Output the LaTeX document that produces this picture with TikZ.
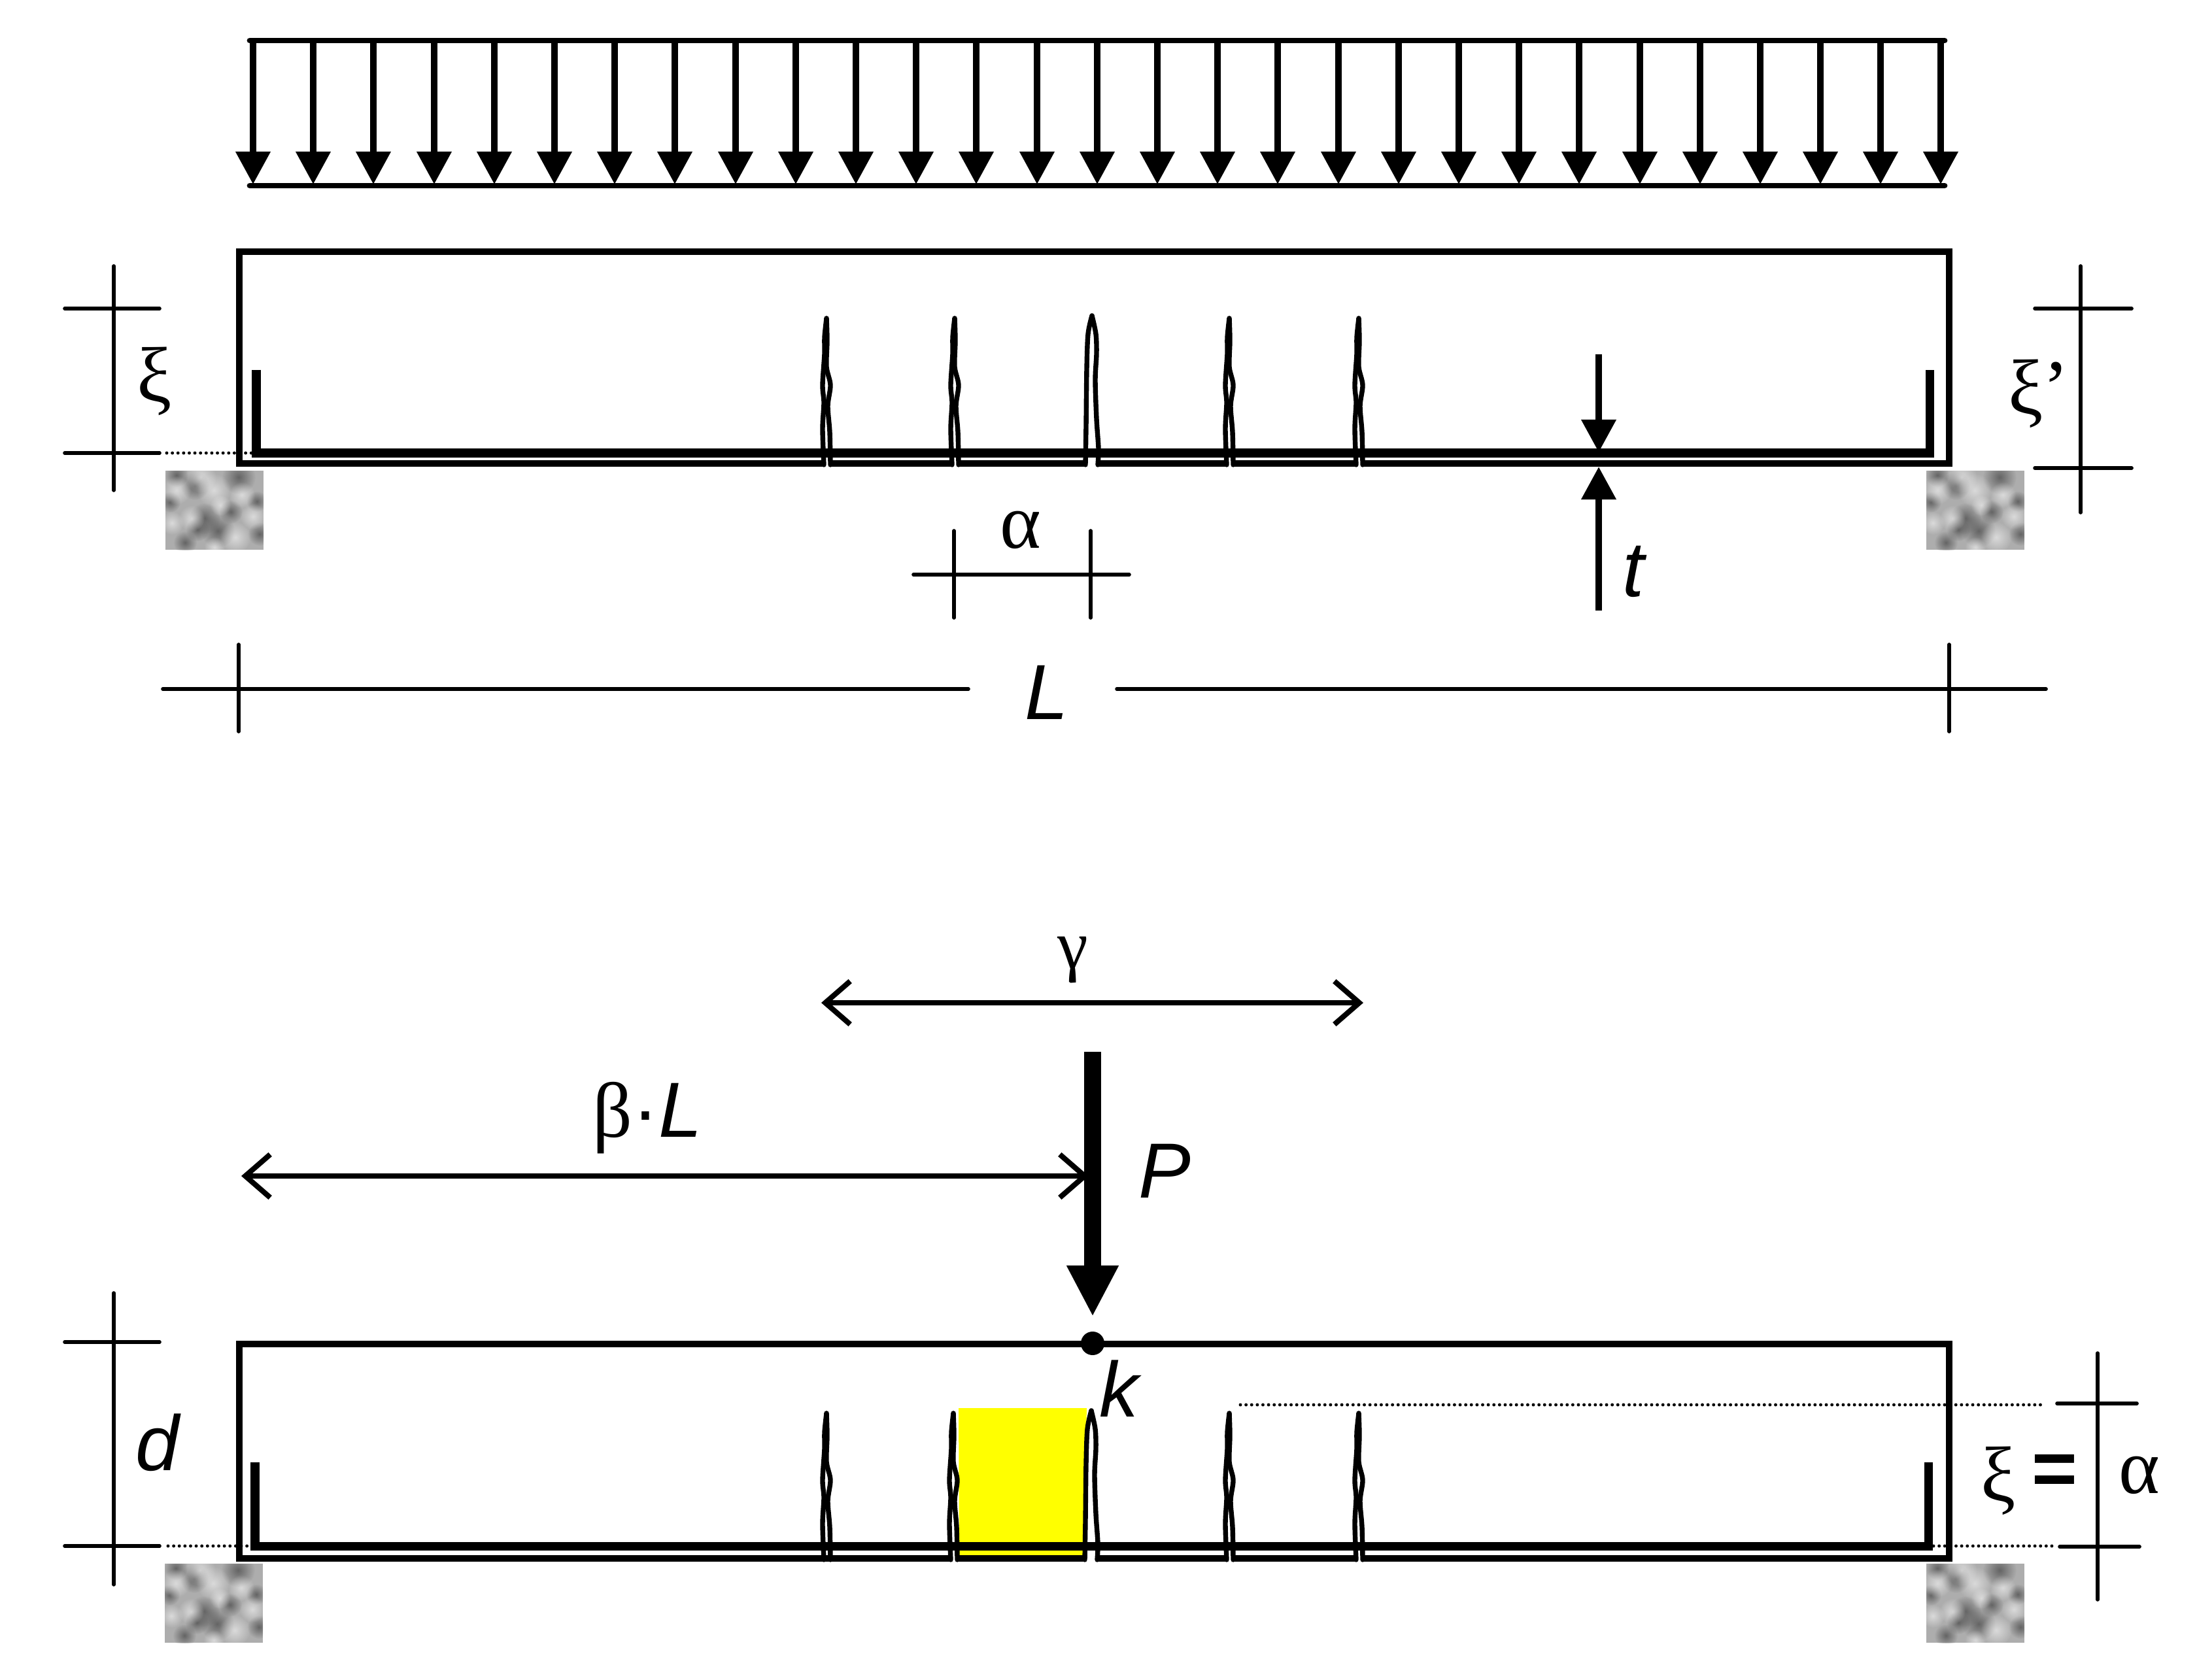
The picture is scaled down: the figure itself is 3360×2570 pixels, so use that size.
\documentclass[tikz,border=0pt]{standalone}
\usepackage{fontspec}
\setmainfont{Liberation Sans}
\newfontfamily\greekfont{Liberation Serif}
\usetikzlibrary{arrows.meta,fadings}
\tikzfading[name=softblob,inner color=transparent!0,outer color=transparent!100]
\definecolor{bandyellow}{RGB}{255,255,0}

\newcommand{\crackthin}[2]{
	\draw [crackline,shift={(#1,#2)}] plot [smooth] coordinates {(-4,0) (-6,-55) (-4,-95) (-6,-122) (-3,-170) (-3,-195) (0,-224)};
	\draw [crackline,shift={(#1,#2)}] plot [smooth] coordinates {(0,-224) (1,-190) (0,-150) (6,-122) (2,-90) (5,-50) (6,0)};
}
\newcommand{\crackwide}[2]{
	\draw [crackline,shift={(#1,#2)}] plot [smooth] coordinates {(-10,0) (-9,-60) (-8,-147) (-6,-200) (0,-228)};
	\draw [crackline,shift={(#1,#2)}] plot [smooth] coordinates {(0,-228) (6,-200) (7,-170) (5,-130) (7,-70) (10,-25) (9,0)};
}
\newcommand{\concretepatch}[2]{
	\begin{scope}[shift={(#1,#2)}]
	\clip (0,0) rectangle (150,121);
	\fill [black!32] (0,0) rectangle (150,121);
	\fill [blobdark] (112,10) circle (26);
	\fill [blobdark] (7,48) circle (16);
	\fill [blobdark] (60,73) circle (24);
	\fill [blobdark] (80,92) circle (26);
	\fill [blobdark] (30,110) circle (18);
	\fill [blobdark] (144,97) circle (18);
	\fill [blobdark] (140,47) circle (16);
	\fill [blobdark] (100,63) circle (18);
	\fill [blobdark] (45,23) circle (22);
	\fill [blobdark] (17,7) circle (18);
	\fill [blobdark] (49,90) circle (18);
	\fill [bloblight] (54,10) circle (24);
	\fill [bloblight] (17,30) circle (22);
	\fill [bloblight] (74,30) circle (26);
	\fill [bloblight] (117,37) circle (20);
	\fill [bloblight] (40,73) circle (20);
	\fill [bloblight] (107,102) circle (24);
	\fill [bloblight] (10,80) circle (18);
	\fill [bloblight] (75,117) circle (16);
	\fill [bloblight] (134,70) circle (20);
	\fill [bloblight] (84,53) circle (16);
	\end{scope}
}

\begin{document}
\begin{tikzpicture}[x=0.01cm,y=-0.01cm]
	\tikzstyle{every node}+=[inner sep=0pt,font=\fontsize{34}{34}\selectfont]
	\tikzstyle{beamline}=[line width=2.7pt,line join=miter]
	\tikzstyle{rebarline}=[line width=3.7pt,line join=miter]
	\tikzstyle{crackline}=[line width=2.1pt,line cap=round]
	\tikzstyle{dimline}=[line width=1.6pt,line cap=round]
	\tikzstyle{dotline}=[line width=1.4pt,line cap=round,dash pattern=on 0pt off 2.45pt]
	\tikzstyle{loadline}=[line width=2.5pt,line cap=round]
	\tikzstyle{loadarrow}=[line width=2.9pt,-{Triangle[length=0.5cm,width=0.51cm]}]
	\tikzstyle{spanarrow}=[line width=2.3pt,{Straight Barb[length=0.38cm,width=0.66cm,line width=2.3pt]}-{Straight Barb[length=0.38cm,width=0.66cm,line width=2.3pt]}]
	\tikzstyle{blobdark}=[black!70,opacity=0.75,path fading=softblob]
	\tikzstyle{bloblight}=[white,opacity=0.55,path fading=softblob]
	\useasboundingbox (0,0) rectangle (3360,2570);

	% uniform load
	\draw [loadarrow] (387,62) -- (387,282);
	\draw [loadarrow] (479,62) -- (479,282);
	\draw [loadarrow] (571,62) -- (571,282);
	\draw [loadarrow] (664,62) -- (664,282);
	\draw [loadarrow] (756,62) -- (756,282);
	\draw [loadarrow] (848,62) -- (848,282);
	\draw [loadarrow] (940,62) -- (940,282);
	\draw [loadarrow] (1032,62) -- (1032,282);
	\draw [loadarrow] (1125,62) -- (1125,282);
	\draw [loadarrow] (1217,62) -- (1217,282);
	\draw [loadarrow] (1309,62) -- (1309,282);
	\draw [loadarrow] (1401,62) -- (1401,282);
	\draw [loadarrow] (1493,62) -- (1493,282);
	\draw [loadarrow] (1586,62) -- (1586,282);
	\draw [loadarrow] (1678,62) -- (1678,282);
	\draw [loadarrow] (1770,62) -- (1770,282);
	\draw [loadarrow] (1862,62) -- (1862,282);
	\draw [loadarrow] (1954,62) -- (1954,282);
	\draw [loadarrow] (2047,62) -- (2047,282);
	\draw [loadarrow] (2139,62) -- (2139,282);
	\draw [loadarrow] (2231,62) -- (2231,282);
	\draw [loadarrow] (2323,62) -- (2323,282);
	\draw [loadarrow] (2415,62) -- (2415,282);
	\draw [loadarrow] (2508,62) -- (2508,282);
	\draw [loadarrow] (2600,62) -- (2600,282);
	\draw [loadarrow] (2692,62) -- (2692,282);
	\draw [loadarrow] (2784,62) -- (2784,282);
	\draw [loadarrow] (2876,62) -- (2876,282);
	\draw [loadarrow] (2968,62) -- (2968,282);
	\draw [loadline] (382,62) -- (2974,62);
	\draw [loadline] (382,284) -- (2974,284);

	% upper beam
	\draw [dotline] (255,693) -- (385,693);
	\draw [beamline] (1260,709) -- (366,709) -- (366,385) -- (2981,385) -- (2981,709) -- (2082,709);
	\draw [beamline] (1270,709) -- (1456,709);
	\draw [beamline] (1466,709) -- (1659,709);
	\draw [beamline] (1680,709) -- (1875,709);
	\draw [beamline] (1885,709) -- (2072,709);
	\draw [rebarline] (392,566) -- (392,693) -- (2951,693) -- (2951,566);
	\crackthin{1264}{711}
	\crackthin{1460}{711}
	\crackwide{1670}{711}
	\crackthin{1880}{711}
	\crackthin{2078}{711}
	\concretepatch{253}{720}
	\concretepatch{2946}{720}
	\draw [dimline] (174,407) -- (174,750);
	\draw [dimline] (99,472) -- (244,472);
	\draw [dimline] (99,693) -- (244,693);
	\draw (236,583) node (xileft) {\greekfont ξ};
	\draw [dimline] (3182,407) -- (3182,784);
	\draw [dimline] (3112,472) -- (3260,472);
	\draw [dimline] (3112,716) -- (3260,716);
	\draw (3118,602) node (xiright) {\greekfont ξ’};
	\draw [dimline] (1397,879) -- (1727,879);
	\draw [dimline] (1459,812) -- (1459,945);
	\draw [dimline] (1668,812) -- (1668,945);
	\draw (1561,811) node (alphatop) {\greekfont α};
	\draw [loadarrow] (2445,542) -- (2445,692);
	\draw [loadarrow] (2445,934) -- (2445,714);
	\draw (2500,874) node (thick) {\textit{t}};
	\draw [dimline] (249,1054) -- (1481,1054);
	\draw [dimline] (1708,1054) -- (3129,1054);
	\draw [dimline] (365,986) -- (365,1119);
	\draw [dimline] (2981,986) -- (2981,1119);
	\draw (1601,1059) node (spanL) {\textit{L}};

	% lower beam
	\fill [bandyellow] (1466,2154) -- (1662,2154) -- (1656,2380) -- (1467,2380) -- cycle;
	\draw [dotline] (257,2365) -- (385,2365);
	\draw [dotline] (2957,2365) -- (3144,2365);
	\draw [dotline] (1897,2149) -- (3124,2149);
	\draw [beamline] (1454,2384) -- (366,2384) -- (366,2056) -- (2981,2056) -- (2981,2384) -- (2082,2384);
	\draw [beamline] (1464,2384) -- (1659,2384);
	\draw [beamline] (1678,2384) -- (1875,2384);
	\draw [beamline] (1885,2384) -- (2072,2384);
	\draw [rebarline] (390,2237) -- (390,2365) -- (2949,2365) -- (2949,2237);
	\crackthin{1264}{2386}
	\crackthin{1458}{2386}
	\crackwide{1669}{2386}
	\crackthin{1880}{2386}
	\crackthin{2078}{2386}
	\concretepatch{252}{2392}
	\concretepatch{2946}{2392}
	\draw [dimline] (174,1978) -- (174,2424);
	\draw [dimline] (99,2053) -- (244,2053);
	\draw [dimline] (99,2365) -- (244,2365);
	\draw (242,2207) node (depth) {\textit{d}};
	\draw [dimline] (3208,2070) -- (3208,2447);
	\draw [dimline] (3146,2147) -- (3268,2147);
	\draw [dimline] (3150,2366) -- (3272,2366);
	\draw (3056,2265) node (xieq) {\greekfont ξ};
	\draw (3142,2256) node (equals) {\textbf{=}};
	\draw (3272,2257) node (alphaeq) {\greekfont α};
	\draw [spanarrow] (1256,1534) -- (2085,1534);
	\draw (1641,1469) node (gammatop) {\fontsize{30}{30}\selectfont\greekfont γ};
	\draw [spanarrow] (369,1799) -- (1665,1799);
	\draw (990,1710) node (betaL) {{\greekfont β}·\textit{L}};
	\draw [line width=7.4pt,-{Triangle[length=0.78cm,width=0.74cm]}] (1671,1609) -- (1671,2014);
	\draw (1781,1791) node (loadP) {\textit{P}};
	\fill (1671,2055) circle (18);
	\draw (1714,2124) node (pointk) {\textit{k}};
\end{tikzpicture}
\end{document}
